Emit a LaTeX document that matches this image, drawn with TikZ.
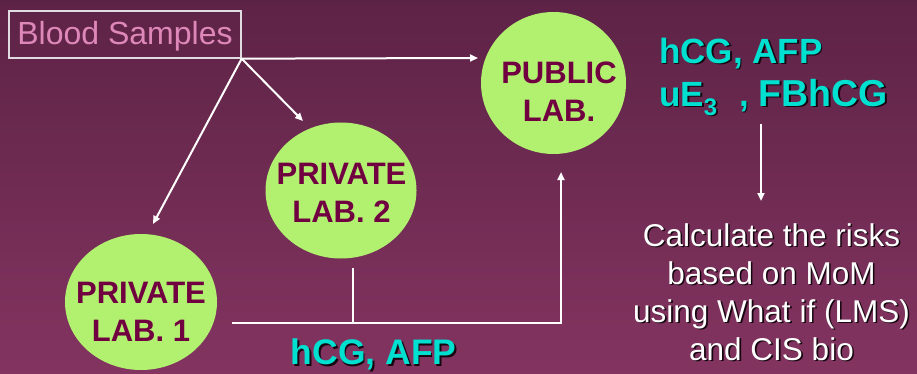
\documentclass[tikz,border=0pt]{standalone}
\usepackage{fontspec}
\setmainfont{Liberation Sans}
\usetikzlibrary{arrows.meta,shapes.geometric}

\definecolor{bgtop}{RGB}{93,35,70}
\definecolor{bgbot}{RGB}{131,52,96}
\definecolor{labfill}{RGB}{178,240,112}
\definecolor{labink}{RGB}{112,0,64}
\definecolor{assay}{RGB}{0,224,208}
\definecolor{pinkink}{RGB}{222,135,185}
\definecolor{boxline}{RGB}{225,220,225}
\definecolor{dropink}{RGB}{22,6,16}

% text with a small dark drop shadow
\newcommand\shd[1]{\leavevmode\rlap{\kern1.6pt\raisebox{-1.6pt}{\textcolor{dropink}{#1}}}#1}

\begin{document}
\begin{tikzpicture}[x=1pt,y=-1pt,
  lab/.style={ellipse, fill=labfill, inner sep=0pt},
  labtxt/.style={text=labink, font=\bfseries\fontsize{31}{38}\selectfont,
    align=center, inner sep=0pt, anchor=north},
  assaytxt/.style={text=assay, font=\bfseries\fontsize{35}{43.3}\selectfont,
    align=left, inner sep=0pt, anchor=north west},
  notetxt/.style={text=white, font=\fontsize{31.5}{38}\selectfont,
    align=center, inner sep=0pt, anchor=north},
  conn/.style={draw=white, line width=2pt},
  arr/.style={conn, -{Triangle[length=8pt,width=7pt]}}]

% background
\shade[top color=bgtop, bottom color=bgbot] (0,0) rectangle (917,374);
\useasboundingbox (0,0) rectangle (917,374);

% source box
\node[draw=boxline, line width=1.3pt, minimum width=232pt, minimum height=47pt,
  inner sep=0pt, text=pinkink, font=\fontsize{32}{38}\selectfont,
  text height=25pt, text depth=5pt] (blood) at (125,34.5) {Blood Samples};

% laboratories
\node[lab, minimum width=145pt, minimum height=142pt] (pub) at (553.5,83) {};
\node[lab, minimum width=151pt, minimum height=136pt] (p2) at (341,190.5) {};
\node[lab, minimum width=152pt, minimum height=136pt] (p1) at (141,302) {};

\node[labtxt] (pubt) at (559,61.7) {PUBLIC\\LAB.};
\node[labtxt] (p2t) at (341.5,163.3) {PRIVATE\\LAB. 2};
\node[labtxt] (p1t) at (141,281.7) {PRIVATE\\LAB. 1};

% markers
\node[assaytxt] (tests) at (659,37.5)
  {\shd{hCG, AFP}\\\shd{uE\raisebox{-9pt}{\fontsize{24}{24}\selectfont 3}\hspace{22pt}, {\fontsize{37.5}{43.3}\selectfont FBhCG}}};
\node[assaytxt] (tests2) at (290.7,338.5) {\shd{{\fontsize{35.5}{43.3}\selectfont hCG, AFP}}};

% risk calculation note
\node[notetxt] (calc) at (771.5,223)
  {\shd{Calculate the risks}\\\shd{based on MoM}\\\shd{using What if (LMS)}\\\shd{and CIS bio}};

% connector end points
\coordinate (pubin) at (478,58);
\coordinate (p2in) at (303,121);
\coordinate (p1in) at (153,224);
\coordinate (p2out) at (353,268);
\coordinate (busL) at (232,322.5);
\coordinate (busR) at (561,322.5);
\coordinate (pubup) at (561,172);
\coordinate (tdown) at (761,124);
\coordinate (tend) at (761,201);

% samples dispatched to the laboratories
\draw[arr] (blood.south east) -- (pubin);
\draw[arr] (blood.south east) -- (p2in);
\draw[arr] (blood.south east) -- (p1in);

% private results forwarded to the public laboratory
\draw[arr] (busL) -- (busR) -- (pubup);
\draw[conn] (p2out) -- (p2out |- busL);

% markers to risk calculation
\draw[arr] (tdown) -- (tend);
\end{tikzpicture}
\end{document}
